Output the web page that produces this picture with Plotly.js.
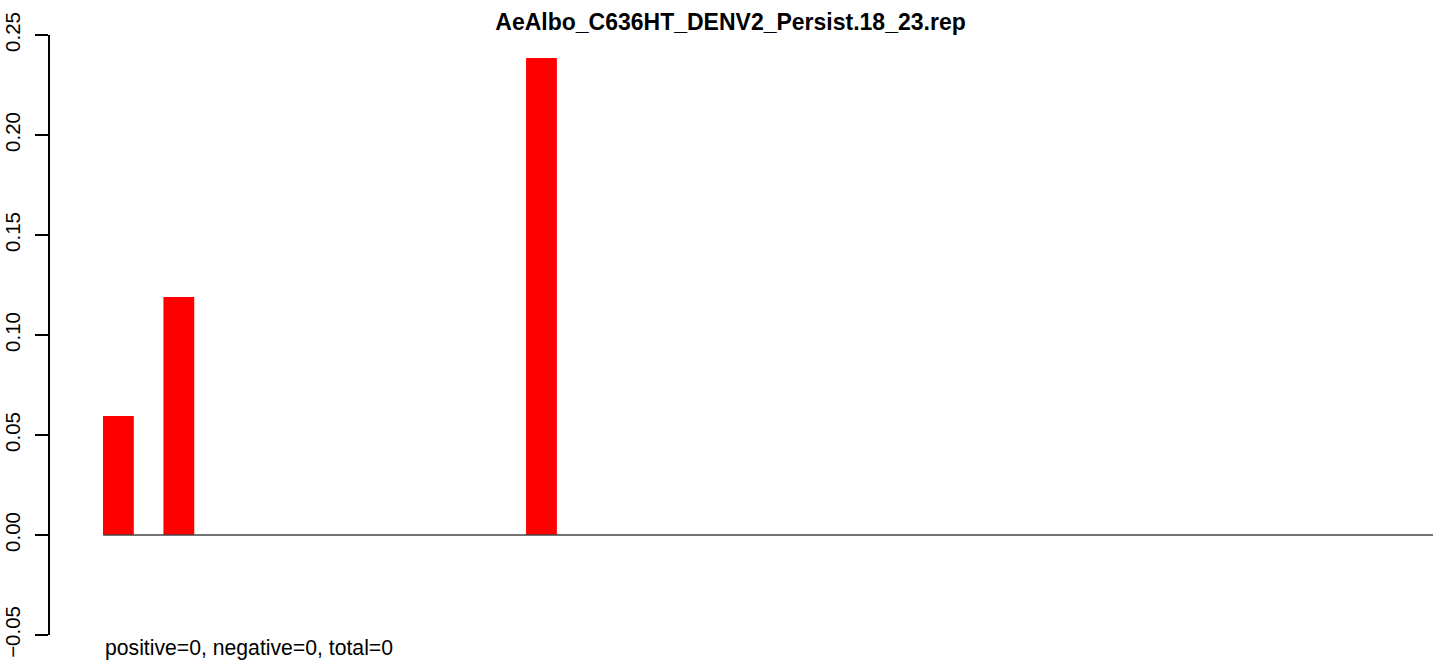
<!DOCTYPE html>
<html>
<head>
<meta charset="utf-8">
<script src="https://cdn.plot.ly/plotly-3.0.1.min.js"></script>
<style>html,body{margin:0;padding:0;background:#fff;}#chart{width:1439px;height:664px;}</style>
</head>
<body>
<div id="chart"></div>
<script>
var categories = ['1','2','3','4','5','6','7','8','9','10','11','12','13','14','15','16','17','18','19','20','21','22'];
var values = [0.0595, 0.119, 0, 0, 0, 0, 0, 0.2385, 0, 0, 0, 0, 0, 0, 0, 0, 0, 0, 0, 0, 0, 0];
var tickVals = [-0.05, 0, 0.05, 0.10, 0.15, 0.20, 0.25];
var tickText = ['\u22120.05', '0.00', '0.05', '0.10', '0.15', '0.20', '0.25'];
var titleText = 'AeAlbo_C636HT_DENV2_Persist.18_23.rep';
var noteText = 'positive=0, negative=0, total=0';

var font = 'Liberation Sans, Arial, Helvetica, sans-serif';

var trace = {
  type: 'bar',
  x: categories,
  y: values,
  marker: {color: '#FF0000', line: {width: 0}},
  hoverinfo: 'none'
};

var layout = {
  width: 1439,
  height: 664,
  margin: {l: 50, r: 0, t: 35, b: 29, pad: 0},
  paper_bgcolor: '#ffffff',
  plot_bgcolor: '#ffffff',
  showlegend: false,
  bargap: 0.49,
  font: {family: font, size: 20, color: '#000'},
  title: {
    text: '<b>' + titleText + '</b>',
    font: {family: font, size: 23, color: '#000'},
    xref: 'container', yref: 'container',
    x: 730.5 / 1439, xanchor: 'center',
    y: 1 - 22 / 664, yanchor: 'middle'
  },
  xaxis: {
    type: 'category',
    range: [-1.1317, 21.85],
    showticklabels: false, showline: false, showgrid: false, zeroline: false, ticks: ''
  },
  yaxis: {
    range: [-0.05, 0.25],
    tickvals: tickVals,
    ticktext: tickText,
    tickangle: -90,
    ticks: 'outside',
    ticklen: 13,
    tickwidth: 1.8,
    tickcolor: '#000',
    ticklabelstandoff: 7,
    showline: true,
    linecolor: '#000',
    linewidth: 1.8,
    showgrid: false,
    zeroline: false,
    tickfont: {family: font, size: 20.5, color: '#000'}
  },
  shapes: [{
    type: 'line', xref: 'x', yref: 'y',
    x0: -0.25, x1: 21.75, y0: 0, y1: 0,
    line: {color: '#444444', width: 1.3}
  }],
  annotations: [{
    text: noteText,
    xref: 'paper', yref: 'paper',
    x: (103 - 50) / 1389, xanchor: 'left',
    y: (635 - 648) / 600, yanchor: 'middle',
    showarrow: false,
    font: {family: font, size: 21.2, color: '#000'}
  }]
};

Plotly.newPlot('chart', [trace], layout, {staticPlot: true, displayModeBar: false});
</script>
</body>
</html>
